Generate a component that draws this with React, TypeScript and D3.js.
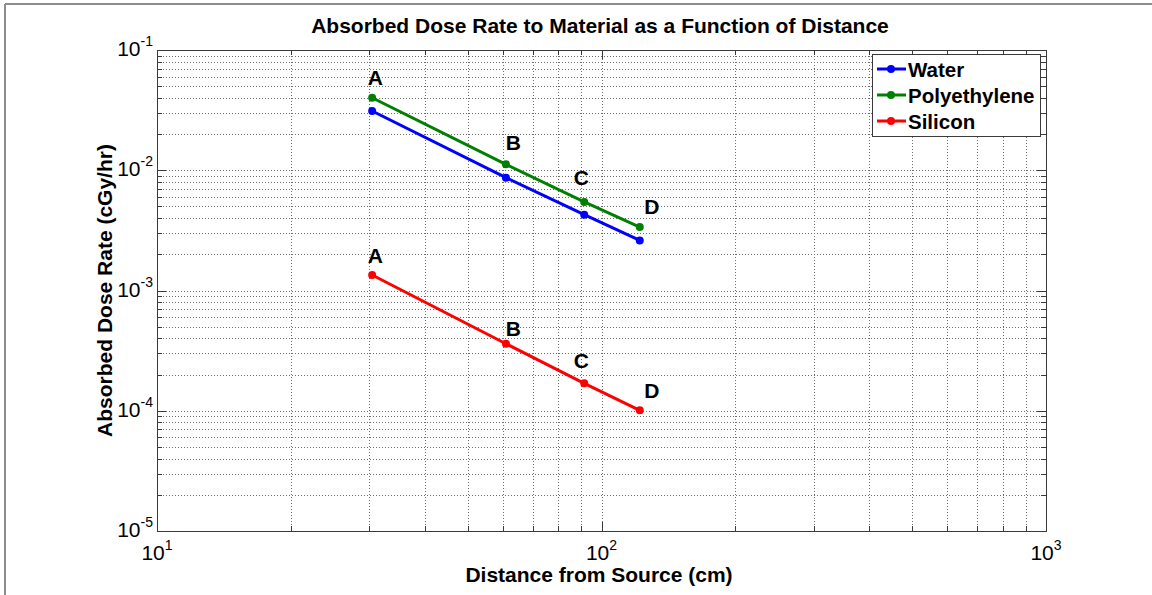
import React from "react";
import * as d3 from "d3";

const distances = [30.48, 60.96, 91.44, 121.92];
const waterRate = [0.0311, 0.00867, 0.00427, 0.00261];
const polyRate = [0.0401, 0.0112, 0.00545, 0.00337];
const siliconRate = [0.001345, 0.000361, 0.000169, 0.0001008];

const pointLabels = ["A", "B", "C", "D"];
const labelX = [29.8, 60.9, 86.6, 124.8];
const upperLabelY = [0.0512, 0.01473, 0.00754, 0.00432];
const lowerLabelY = [0.0017, 0.000419, 0.000227, 0.0001285];

const xDecades = [1, 2, 3];
const yDecades = [-5, -4, -3, -2, -1];

const seriesNames = ["Water", "Polyethylene", "Silicon"];
const seriesColors = ["#0000ff", "#008000", "#ff0000"];
const seriesValues = [waterRate, polyRate, siliconRate];

const W = 1152;
const H = 595;
const L = 157, R = 1046, T = 50, B = 531;
const FONT = "'Liberation Sans', Arial, Helvetica, sans-serif";

export default function App() {
  const x = d3.scaleLog().domain([10, 1000]).range([L, R]);
  const y = d3.scaleLog().domain([1e-5, 1e-1]).range([B, T]);

  const xMajor = xDecades.map((e) => Math.pow(10, e));
  const yMajor = yDecades.map((e) => Math.pow(10, e));
  const xMinor: number[] = [];
  [10, 100].forEach((b) => { for (let k = 2; k <= 9; k++) xMinor.push(b * k); });
  const yMinor: number[] = [];
  [1e-5, 1e-4, 1e-3, 1e-2].forEach((b) => { for (let k = 2; k <= 9; k++) yMinor.push(b * k); });

  const line = d3.line<number>().x((_, i) => x(distances[i])).y((d) => y(d));

  const gridColor = "#6e6e6e";
  const axisColor = "#3a3a3a";
  const majLen = 9, minLen = 5;

  return (
    <svg width={W} height={H} style={{ position: "absolute", left: 0, top: 0, background: "#fff" }} fontFamily={FONT}>
      <rect x={0} y={0} width={W} height={H} fill="#fff" />
      {/* outer frame */}
      <line x1={5} y1={4} x2={W} y2={4} stroke="#8c8c8c" strokeWidth={2} />
      <line x1={5} y1={4} x2={5} y2={H} stroke="#8c8c8c" strokeWidth={2} />

      {/* grid */}
      <g stroke={gridColor} strokeWidth={1} strokeDasharray="1 2">
        {[...xMajor.slice(1, 2), ...xMinor].map((v, i) => (
          <line key={"gx" + i} x1={Math.round(x(v)) + 0.5} x2={Math.round(x(v)) + 0.5} y1={T} y2={B} />
        ))}
        {[...yMajor.slice(1, 4), ...yMinor].map((v, i) => (
          <line key={"gy" + i} x1={L} x2={R} y1={Math.round(y(v)) + 0.5} y2={Math.round(y(v)) + 0.5} />
        ))}
      </g>

      {/* ticks */}
      <g stroke={axisColor} strokeWidth={1}>
        {xMajor.map((v, i) => {
          const px = Math.round(x(v)) + 0.5;
          return (
            <g key={"xt" + i}>
              <line x1={px} x2={px} y1={B} y2={B - majLen} />
              <line x1={px} x2={px} y1={T} y2={T + majLen} />
            </g>
          );
        })}
        {xMinor.map((v, i) => {
          const px = Math.round(x(v)) + 0.5;
          return (
            <g key={"xm" + i}>
              <line x1={px} x2={px} y1={B} y2={B - minLen} />
              <line x1={px} x2={px} y1={T} y2={T + minLen} />
            </g>
          );
        })}
        {yMajor.map((v, i) => {
          const py = Math.round(y(v)) + 0.5;
          return (
            <g key={"yt" + i}>
              <line x1={L} x2={L + majLen} y1={py} y2={py} />
              <line x1={R} x2={R - majLen} y1={py} y2={py} />
            </g>
          );
        })}
        {yMinor.map((v, i) => {
          const py = Math.round(y(v)) + 0.5;
          return (
            <g key={"ym" + i}>
              <line x1={L} x2={L + minLen} y1={py} y2={py} />
              <line x1={R} x2={R - minLen} y1={py} y2={py} />
            </g>
          );
        })}
      </g>

      {/* axes box */}
      <rect x={L + 0.5} y={T + 0.5} width={R - L} height={B - T} fill="none" stroke={axisColor} strokeWidth={1} />

      {/* x tick labels */}
      {xDecades.map((e, i) => (
        <text key={"xl" + i} x={x(Math.pow(10, e))} y={B + 29} textAnchor="middle" fontSize={21} fill="#000">
          10<tspan fontSize={14} dy={-10}>{e}</tspan>
        </text>
      ))}
      {/* y tick labels */}
      {yDecades.map((e, i) => (
        <text key={"yl" + i} x={L - 4} y={y(Math.pow(10, e)) + 6} textAnchor="end" fontSize={21} fill="#000">
          10<tspan fontSize={14} dy={-10}>{e}</tspan>
        </text>
      ))}

      {/* series */}
      {seriesValues.map((vals, si) => (
        <g key={"s" + si}>
          <path d={line(vals) || ""} fill="none" stroke={seriesColors[si]} strokeWidth={3} />
          {vals.map((v, i) => (
            <circle key={i} cx={x(distances[i])} cy={y(v)} r={4} fill={seriesColors[si]} />
          ))}
        </g>
      ))}

      {/* point labels */}
      {pointLabels.map((t, i) => (
        <g key={"pl" + i} fontWeight="bold" fontSize={21} fill="#000">
          <text x={x(labelX[i])} y={y(upperLabelY[i])}>{t}</text>
          <text x={x(labelX[i])} y={y(lowerLabelY[i])}>{t}</text>
        </g>
      ))}

      {/* legend */}
      <rect x={872.5} y={54.5} width={168} height={82} fill="#fff" stroke={axisColor} strokeWidth={1} />
      {seriesNames.map((n, i) => {
        const cy = 69 + i * 26;
        return (
          <g key={"lg" + i}>
            <line x1={877} x2={906} y1={cy} y2={cy} stroke={seriesColors[i]} strokeWidth={3} />
            <circle cx={891} cy={cy} r={4} fill={seriesColors[i]} />
            <text x={908} y={cy + 7.5} fontSize={20.5} fontWeight="bold" fill="#000">{n}</text>
          </g>
        );
      })}

      {/* titles */}
      <text x={600} y={33} textAnchor="middle" fontSize={21} fontWeight="bold" fill="#000">
        Absorbed Dose Rate to Material as a Function of Distance
      </text>
      <text x={599} y={582} textAnchor="middle" fontSize={21} fontWeight="bold" fill="#000">
        Distance from Source (cm)
      </text>
      <text transform={`translate(112, ${(T + B) / 2}) rotate(-90)`} textAnchor="middle" fontSize={21} fontWeight="bold" fill="#000">
        Absorbed Dose Rate (cGy/hr)
      </text>
    </svg>
  );
}
